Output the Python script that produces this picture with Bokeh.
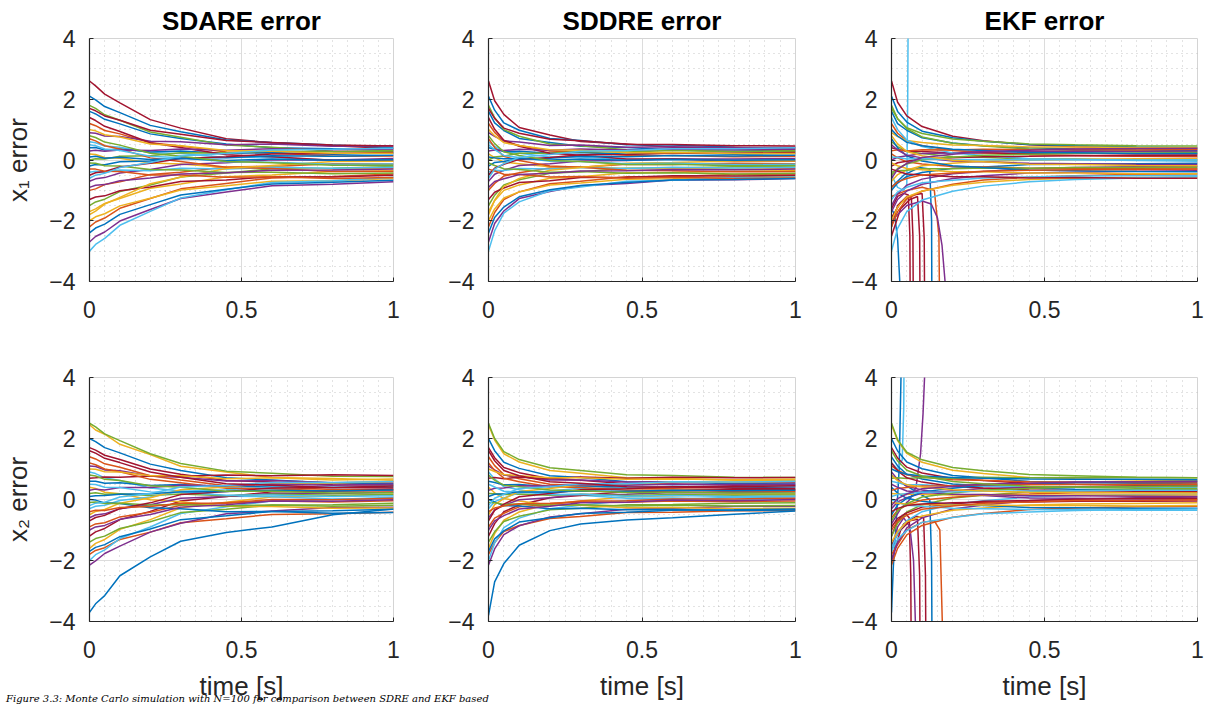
from bokeh.plotting import figure
from bokeh.layouts import column, row
from bokeh.models import Range1d, FixedTicker, Div, ColumnDataSource
from bokeh.embed import file_html
from bokeh.resources import INLINE

# ---------------- data ----------------
T = [0, 0.02, 0.05, 0.1, 0.2, 0.3, 0.45, 0.6, 0.8, 1.0]
x_ticks = [0, 0.5, 1]
y_ticks = [-4, -2, 0, 2, 4]
x_tick_labels = {0: "0", 0.5: "0.5", 1: "1"}
titles = ["SDARE error", "SDDRE error", "EKF error"]
y_labels = ["x\u2081 error", "x\u2082 error"]
x_label = "time [s]"
caption = "Figure 3.3: Monte Carlo simulation with N=100 for comparison between SDRE and EKF based"

sdare_x1 = [
    [1.6, 1.52, 1.34, 1.19, 0.86, 0.71, 0.53, 0.40, 0.37, 0.31],
    [-2.2, -2.04, -1.91, -1.59, -1.27, -0.95, -0.77, -0.59, -0.54, -0.46],
    [-2.0, -1.87, -1.77, -1.51, -1.26, -0.99, -0.85, -0.70, -0.68, -0.61],
    [-2.7, -2.52, -2.37, -2.01, -1.63, -1.27, -1.05, -0.85, -0.80, -0.72],
    [1.8, 1.70, 1.49, 1.31, 0.92, 0.75, 0.49, 0.42, 0.29, 0.27],
    [-3.0, -2.78, -2.58, -2.15, -1.69, -1.25, -0.98, -0.74, -0.68, -0.57],
    [2.6, 2.44, 2.17, 1.88, 1.33, 1.05, 0.70, 0.57, 0.47, 0.38],
    [2.1, 1.98, 1.76, 1.56, 1.14, 0.93, 0.66, 0.58, 0.49, 0.41],
    [1.2, 1.13, 0.97, 0.86, 0.57, 0.46, 0.26, 0.23, 0.12, 0.13],
    [-1.7, -1.61, -1.43, -1.27, -0.93, -0.79, -0.55, -0.49, -0.38, -0.36],
    [0.9, 0.88, 0.79, 0.77, 0.62, 0.60, 0.50, 0.53, 0.45, 0.47],
    [-1.5, -1.38, -1.29, -1.04, -0.82, -0.56, -0.43, -0.29, -0.27, -0.21],
    [0.6, 0.57, 0.46, 0.42, 0.24, 0.21, 0.08, 0.09, -0.01, 0.02],
    [-1.3, -1.22, -1.18, -1.01, -0.89, -0.71, -0.66, -0.55, -0.56, -0.50],
    [0.4, 0.41, 0.33, 0.36, 0.26, 0.30, 0.21, 0.25, 0.19, 0.22],
    [-1.0, -0.95, -0.81, -0.72, -0.48, -0.40, -0.23, -0.21, -0.12, -0.13],
    [0.2, 0.18, 0.08, 0.06, -0.10, -0.13, -0.25, -0.23, -0.30, -0.28],
    [-0.7, -0.62, -0.58, -0.43, -0.31, -0.15, -0.09, 0.01, 0.00, 0.05],
    [0.0, 0.04, 0.03, 0.12, 0.14, 0.24, 0.23, 0.30, 0.27, 0.31],
    [-0.4, -0.37, -0.40, -0.33, -0.35, -0.27, -0.30, -0.24, -0.27, -0.24],
    [1.4, 1.30, 1.11, 0.94, 0.57, 0.41, 0.17, 0.11, -0.01, -0.03],
    [-0.2, -0.15, -0.16, -0.06, -0.03, 0.07, 0.07, 0.14, 0.12, 0.16],
    [0.7, 0.63, 0.47, 0.36, 0.07, -0.05, -0.24, -0.28, -0.38, -0.37],
    [-1.8, -1.68, -1.45, -1.23, -0.78, -0.57, -0.28, -0.18, -0.05, -0.04],
    [0.3, 0.32, 0.29, 0.33, 0.31, 0.36, 0.32, 0.37, 0.34, 0.36],
    [-0.1, -0.11, -0.19, -0.20, -0.31, -0.33, -0.41, -0.40, -0.45, -0.43],
    [0.5, 0.47, 0.36, 0.31, 0.12, 0.07, -0.06, -0.07, -0.14, -0.13],
    [-0.5, -0.42, -0.38, -0.23, -0.11, 0.05, 0.11, 0.20, 0.21, 0.25],
    [0.1, 0.12, 0.06, 0.09, 0.02, 0.05, -0.02, 0.03, -0.01, 0.01],
    [-0.3, -0.30, -0.37, -0.38, -0.49, -0.49, -0.57, -0.55, -0.61, -0.58],
    [1.0, 0.96, 0.83, 0.76, 0.53, 0.47, 0.31, 0.29, 0.22, 0.22],
    [-0.9, -0.83, -0.81, -0.68, -0.59, -0.46, -0.42, -0.34, -0.33, -0.30],
    [0.8, 0.74, 0.59, 0.49, 0.22, 0.12, -0.05, -0.09, -0.17, -0.17],
    [-0.6, -0.50, -0.44, -0.25, -0.08, 0.13, 0.21, 0.33, 0.35, 0.39],
    [1.7, 1.62, 1.45, 1.31, 0.98, 0.85, 0.64, 0.58, 0.49, 0.46],
    [-2.4, -2.24, -2.11, -1.79, -1.47, -1.15, -0.96, -0.79, -0.73, -0.67],
]

sddre_x1 = [
    [1.6, 1.22, 0.97, 0.71, 0.58, 0.45, 0.41, 0.34, 0.34, 0.30],
    [-2.2, -1.73, -1.30, -1.05, -0.78, -0.70, -0.55, -0.54, -0.48, -0.46],
    [-2.0, -1.61, -1.25, -1.05, -0.82, -0.76, -0.63, -0.62, -0.57, -0.55],
    [-2.7, -2.09, -1.68, -1.27, -1.04, -0.85, -0.77, -0.66, -0.65, -0.61],
    [1.8, 1.39, 1.00, 0.78, 0.53, 0.47, 0.34, 0.33, 0.27, 0.28],
    [-3.0, -2.33, -1.75, -1.38, -1.01, -0.89, -0.70, -0.67, -0.58, -0.56],
    [2.6, 1.95, 1.50, 1.07, 0.82, 0.61, 0.53, 0.42, 0.41, 0.36],
    [2.1, 1.64, 1.22, 0.98, 0.71, 0.64, 0.50, 0.49, 0.42, 0.41],
    [1.2, 0.91, 0.62, 0.48, 0.30, 0.26, 0.16, 0.15, 0.11, 0.12],
    [-1.7, -1.34, -1.00, -0.82, -0.60, -0.55, -0.42, -0.41, -0.37, -0.35],
    [0.9, 0.78, 0.63, 0.59, 0.48, 0.49, 0.42, 0.44, 0.40, 0.41],
    [-1.5, -1.16, -0.82, -0.65, -0.44, -0.39, -0.27, -0.26, -0.22, -0.20],
    [0.6, 0.45, 0.28, 0.22, 0.10, 0.10, 0.02, 0.04, 0.00, 0.01],
    [-1.3, -1.06, -0.92, -0.74, -0.68, -0.58, -0.57, -0.52, -0.53, -0.50],
    [0.4, 0.36, 0.28, 0.29, 0.22, 0.25, 0.20, 0.23, 0.19, 0.21],
    [-1.0, -0.77, -0.53, -0.42, -0.26, -0.24, -0.14, -0.15, -0.11, -0.12],
    [0.2, 0.08, -0.07, -0.12, -0.22, -0.22, -0.28, -0.27, -0.30, -0.29],
    [-0.7, -0.47, -0.34, -0.18, -0.12, -0.03, -0.02, 0.03, 0.03, 0.05],
    [0.0, 0.10, 0.13, 0.22, 0.22, 0.28, 0.26, 0.31, 0.28, 0.31],
    [-0.4, -0.34, -0.35, -0.28, -0.30, -0.25, -0.28, -0.24, -0.26, -0.24],
    [1.4, 1.01, 0.65, 0.45, 0.22, 0.16, 0.03, 0.03, -0.03, -0.04],
    [-0.2, -0.08, -0.05, 0.05, 0.06, 0.12, 0.11, 0.15, 0.13, 0.16],
    [0.7, 0.41, 0.12, -0.02, -0.20, -0.24, -0.34, -0.35, -0.39, -0.38],
    [-1.8, -1.32, -0.87, -0.61, -0.34, -0.25, -0.11, -0.08, -0.03, -0.03],
    [0.3, 0.33, 0.31, 0.35, 0.32, 0.36, 0.33, 0.36, 0.34, 0.35],
    [-0.1, -0.18, -0.29, -0.31, -0.40, -0.38, -0.44, -0.42, -0.46, -0.44],
    [0.5, 0.34, 0.15, 0.08, -0.04, -0.05, -0.12, -0.11, -0.15, -0.14],
    [-0.5, -0.27, -0.14, 0.02, 0.08, 0.17, 0.18, 0.23, 0.22, 0.25],
    [0.1, 0.07, 0.04, 0.05, 0.00, 0.03, -0.01, 0.02, -0.01, 0.01],
    [-0.3, -0.36, -0.47, -0.48, -0.56, -0.54, -0.60, -0.57, -0.61, -0.59],
    [1.0, 0.80, 0.57, 0.48, 0.34, 0.32, 0.24, 0.25, 0.21, 0.21],
    [-0.9, -0.71, -0.62, -0.48, -0.44, -0.36, -0.35, -0.31, -0.32, -0.30],
    [0.8, 0.54, 0.27, 0.15, -0.02, -0.05, -0.15, -0.14, -0.19, -0.18],
    [-0.6, -0.30, -0.12, 0.09, 0.18, 0.29, 0.31, 0.37, 0.37, 0.40],
    [1.7, 1.37, 1.05, 0.88, 0.68, 0.63, 0.52, 0.51, 0.47, 0.46],
    [-2.4, -1.89, -1.55, -1.21, -0.98, -0.84, -0.74, -0.66, -0.64, -0.61],
]

ekf_x1 = [
    [1.6, 1.20, 0.98, 0.73, 0.56, 0.47, 0.40, 0.36, 0.33, 0.31],
    [-2.2, -1.70, -1.28, -1.03, -0.80, -0.66, -0.57, -0.52, -0.47, -0.46],
    [-2.0, -1.55, -1.22, -1.02, -0.83, -0.73, -0.64, -0.60, -0.58, -0.56],
    [-1.7, -1.30, -1.02, -0.80, -0.61, -0.52, -0.43, -0.40, -0.37, -0.35],
    [1.8, 1.36, 1.03, 0.76, 0.55, 0.46, 0.36, 0.32, 0.28, 0.26],
    [-3.0, -2.25, -1.70, -1.32, -1.03, -0.86, -0.72, -0.64, -0.59, -0.55],
    [2.6, 1.90, 1.45, 1.10, 0.78, 0.63, 0.50, 0.44, 0.39, 0.36],
    [2.1, 1.60, 1.25, 0.95, 0.73, 0.62, 0.51, 0.48, 0.43, 0.40],
    [1.2, 0.88, 0.64, 0.47, 0.31, 0.25, 0.17, 0.15, 0.12, 0.11],
    [0.9, 0.77, 0.64, 0.58, 0.49, 0.48, 0.43, 0.43, 0.41, 0.40],
    [-1.5, -1.12, -0.83, -0.63, -0.45, -0.38, -0.28, -0.25, -0.22, -0.21],
    [0.6, 0.44, 0.29, 0.21, 0.11, 0.09, 0.03, 0.03, 0.01, 0.00],
    [-1.3, -1.05, -0.90, -0.75, -0.67, -0.59, -0.56, -0.53, -0.52, -0.51],
    [0.4, 0.35, 0.29, 0.28, 0.23, 0.24, 0.21, 0.22, 0.20, 0.20],
    [-1.0, -0.76, -0.54, -0.41, -0.27, -0.23, -0.15, -0.14, -0.12, -0.11],
    [0.2, 0.07, -0.06, -0.13, -0.21, -0.23, -0.27, -0.28, -0.29, -0.30],
    [-0.7, -0.48, -0.33, -0.19, -0.11, -0.04, -0.01, 0.02, 0.04, 0.04],
    [0.0, 0.09, 0.14, 0.21, 0.23, 0.27, 0.27, 0.30, 0.29, 0.30],
    [-0.4, -0.35, -0.34, -0.29, -0.29, -0.26, -0.27, -0.25, -0.25, -0.24],
    [1.4, 1.00, 0.66, 0.44, 0.23, 0.15, 0.04, 0.02, -0.02, -0.04],
    [-0.2, -0.09, -0.04, 0.04, 0.07, 0.11, 0.12, 0.14, 0.14, 0.15],
    [0.7, 0.40, 0.13, -0.03, -0.19, -0.25, -0.33, -0.35, -0.38, -0.39],
    [0.3, 0.34, 0.30, 0.34, 0.33, 0.35, 0.34, 0.35, 0.33, 0.35],
    [-0.1, -0.19, -0.28, -0.32, -0.39, -0.39, -0.43, -0.43, -0.45, -0.45],
    [0.5, 0.33, 0.16, 0.07, -0.03, -0.06, -0.11, -0.12, -0.14, -0.15],
    [-0.5, -0.28, -0.13, 0.01, 0.09, 0.16, 0.19, 0.22, 0.23, 0.24],
    [0.1, 0.08, 0.03, 0.05, 0.01, 0.02, 0.00, 0.02, 0.00, 0.01],
    [-0.3, -0.37, -0.46, -0.49, -0.55, -0.55, -0.59, -0.58, -0.60, -0.60],
    [1.0, 0.79, 0.58, 0.47, 0.35, 0.31, 0.25, 0.24, 0.21, 0.21],
    [-0.9, -0.72, -0.61, -0.49, -0.43, -0.37, -0.34, -0.32, -0.31, -0.30],
    [0.8, 0.53, 0.28, 0.14, -0.01, -0.06, -0.14, -0.15, -0.18, -0.19],
    [-0.6, -0.31, -0.11, 0.08, 0.19, 0.28, 0.32, 0.36, 0.38, 0.39],
    [1.7, 1.36, 1.06, 0.87, 0.69, 0.62, 0.53, 0.50, 0.47, 0.46],
]

ekf_x1_div_t = [
    [0, 0.02, 0.04, 0.05, 0.053, 0.056],
    [0, 0.01, 0.02, 0.027, 0.03],
    [0, 0.02, 0.04, 0.055, 0.06, 0.063],
    [0, 0.02, 0.05, 0.065, 0.07, 0.073],
    [0, 0.03, 0.06, 0.085, 0.092, 0.095],
    [0, 0.03, 0.07, 0.1, 0.107, 0.11],
    [0, 0.04, 0.09, 0.125, 0.131, 0.133],
    [0, 0.05, 0.1, 0.14, 0.155, 0.16],
    [0, 0.05, 0.1, 0.13, 0.15, 0.165, 0.175, 0.18],
]
ekf_x1_div_y = [
    [-0.5, -0.9, -1.0, -0.8, 2.0, 8.0],
    [-1.6, -1.8, -2.6, -4.0, -8.0],
    [-1.6, -1.2, -1.1, -1.15, -2.5, -8.0],
    [-2.2, -1.5, -1.2, -1.25, -2.5, -8.0],
    [-2.5, -1.6, -1.3, -1.2, -2.5, -8.0],
    [-1.9, -1.4, -1.15, -1.1, -2.6, -8.0],
    [-0.9, -0.5, -0.25, -0.3, -2.0, -8.0],
    [-1.2, -1.0, -0.9, -1.0, -2.5, -8.0],
    [-2.0, -1.5, -1.35, -1.45, -1.9, -2.8, -4.0, -8.0],
]

sdare_x2 = [
    [2.0, 1.90, 1.70, 1.53, 1.16, 0.95, 0.71, 0.64, 0.54, 0.52],
    [-1.8, -1.67, -1.58, -1.31, -1.07, -0.76, -0.63, -0.49, -0.47, -0.42],
    [2.45, 2.28, 2.14, 1.81, 1.47, 1.09, 0.90, 0.72, 0.69, 0.63],
    [-2.15, -2.01, -1.77, -1.53, -1.07, -0.78, -0.47, -0.38, -0.26, -0.25],
    [2.5, 2.38, 2.15, 1.93, 1.50, 1.18, 0.93, 0.86, 0.76, 0.75],
    [-2.0, -1.81, -1.65, -1.28, -0.90, -0.46, -0.24, -0.05, 0.00, 0.07],
    [1.7, 1.62, 1.45, 1.31, 1.00, 0.83, 0.62, 0.57, 0.48, 0.47],
    [-3.7, -3.42, -3.15, -2.50, -1.88, -1.37, -1.08, -0.90, -0.50, -0.31],
    [1.4, 1.33, 1.17, 1.06, 0.78, 0.64, 0.45, 0.41, 0.33, 0.33],
    [-1.6, -1.44, -1.31, -0.98, -0.66, -0.27, -0.09, 0.08, 0.11, 0.17],
    [1.1, 1.08, 0.97, 0.94, 0.77, 0.73, 0.61, 0.62, 0.55, 0.57],
    [-1.4, -1.28, -1.20, -0.95, -0.73, -0.43, -0.32, -0.18, -0.17, -0.12],
    [0.9, 0.85, 0.71, 0.62, 0.38, 0.28, 0.11, 0.09, 0.02, 0.03],
    [-1.2, -1.06, -0.95, -0.66, -0.39, -0.05, 0.10, 0.25, 0.27, 0.33],
    [0.6, 0.60, 0.53, 0.55, 0.46, 0.49, 0.41, 0.44, 0.39, 0.41],
    [-0.9, -0.80, -0.76, -0.57, -0.42, -0.19, -0.11, 0.00, -0.01, 0.04],
    [0.4, 0.36, 0.24, 0.19, -0.01, -0.07, -0.22, -0.23, -0.29, -0.28],
    [-0.6, -0.51, -0.47, -0.30, -0.17, 0.04, 0.10, 0.20, 0.20, 0.24],
    [0.2, 0.22, 0.17, 0.19, 0.13, 0.18, 0.12, 0.17, 0.14, 0.16],
    [-0.3, -0.22, -0.19, -0.03, 0.08, 0.27, 0.32, 0.41, 0.40, 0.44],
    [0.7, 0.71, 0.74, 0.73, 0.77, 0.76, 0.80, 0.78, 0.81, 0.79],
    [0.0, -0.02, -0.11, -0.13, -0.27, -0.30, -0.40, -0.39, -0.45, -0.43],
    [1.2, 1.14, 1.00, 0.91, 0.66, 0.55, 0.37, 0.35, 0.28, 0.28],
    [-0.5, -0.39, -0.33, -0.12, 0.06, 0.32, 0.41, 0.53, 0.54, 0.59],
    [0.3, 0.34, 0.31, 0.39, 0.39, 0.47, 0.45, 0.50, 0.47, 0.51],
    [-0.1, -0.08, -0.13, -0.12, -0.18, -0.16, -0.21, -0.18, -0.22, -0.19],
    [0.5, 0.49, 0.40, 0.39, 0.25, 0.24, 0.14, 0.15, 0.10, 0.12],
    [-0.7, -0.59, -0.52, -0.30, -0.11, 0.16, 0.26, 0.38, 0.39, 0.44],
    [0.1, 0.12, 0.13, 0.17, 0.19, 0.25, 0.26, 0.30, 0.28, 0.31],
    [-0.4, -0.35, -0.36, -0.26, -0.23, -0.12, -0.12, -0.05, -0.08, -0.04],
    [1.0, 0.99, 0.91, 0.90, 0.78, 0.78, 0.68, 0.71, 0.64, 0.67],
    [-1.0, -0.90, -0.85, -0.65, -0.49, -0.25, -0.17, -0.05, -0.06, -0.01],
    [0.8, 0.77, 0.66, 0.62, 0.45, 0.40, 0.27, 0.27, 0.21, 0.22],
    [-0.2, -0.12, -0.09, 0.08, 0.20, 0.41, 0.46, 0.56, 0.56, 0.59],
    [1.6, 1.52, 1.35, 1.21, 0.90, 0.73, 0.52, 0.47, 0.39, 0.38],
    [-1.7, -1.57, -1.48, -1.22, -0.97, -0.66, -0.53, -0.39, -0.37, -0.32],
]

sddre_x2 = [
    [2.0, 1.60, 1.22, 1.02, 0.78, 0.72, 0.58, 0.57, 0.52, 0.51],
    [-1.8, -1.41, -1.05, -0.85, -0.62, -0.56, -0.43, -0.42, -0.37, -0.36],
    [2.45, 1.95, 1.50, 1.23, 0.95, 0.86, 0.71, 0.69, 0.63, 0.62],
    [-2.15, -1.62, -1.15, -0.86, -0.57, -0.47, -0.32, -0.29, -0.23, -0.22],
    [2.5, 2.00, 1.57, 1.31, 1.04, 0.95, 0.81, 0.79, 0.73, 0.72],
    [-2.0, -1.43, -0.92, -0.61, -0.30, -0.19, -0.03, 0.01, 0.07, 0.08],
    [1.7, 1.37, 1.05, 0.88, 0.68, 0.63, 0.52, 0.51, 0.47, 0.46],
    [-3.8, -2.70, -2.10, -1.50, -1.02, -0.80, -0.67, -0.60, -0.48, -0.38],
    [1.4, 1.11, 0.82, 0.68, 0.50, 0.46, 0.36, 0.35, 0.31, 0.31],
    [-1.6, -1.12, -0.68, -0.41, -0.14, -0.05, 0.09, 0.12, 0.17, 0.18],
    [1.1, 0.97, 0.80, 0.75, 0.64, 0.64, 0.57, 0.58, 0.55, 0.56],
    [-1.4, -1.06, -0.72, -0.55, -0.34, -0.29, -0.17, -0.16, -0.12, -0.11],
    [0.9, 0.67, 0.42, 0.32, 0.16, 0.14, 0.04, 0.05, 0.01, 0.02],
    [-1.2, -0.79, -0.40, -0.18, 0.06, 0.13, 0.26, 0.28, 0.33, 0.33],
    [0.6, 0.56, 0.48, 0.49, 0.42, 0.45, 0.40, 0.43, 0.39, 0.41],
    [-0.9, -0.61, -0.45, -0.24, -0.16, -0.05, -0.04, 0.02, 0.02, 0.04],
    [0.4, 0.22, 0.03, -0.05, -0.18, -0.19, -0.27, -0.26, -0.30, -0.29],
    [-0.6, -0.34, -0.19, -0.01, 0.06, 0.16, 0.17, 0.23, 0.22, 0.25],
    [0.2, 0.19, 0.16, 0.18, 0.14, 0.17, 0.13, 0.16, 0.14, 0.15],
    [-0.3, -0.07, 0.05, 0.22, 0.28, 0.37, 0.38, 0.43, 0.42, 0.45],
    [0.7, 0.72, 0.68, 0.73, 0.69, 0.74, 0.70, 0.73, 0.71, 0.72],
    [0.0, -0.08, -0.20, -0.21, -0.30, -0.29, -0.34, -0.33, -0.36, -0.34],
    [1.2, 0.95, 0.70, 0.58, 0.42, 0.39, 0.30, 0.30, 0.26, 0.27],
    [-0.5, -0.17, 0.03, 0.26, 0.36, 0.48, 0.50, 0.57, 0.57, 0.59],
    [0.3, 0.37, 0.38, 0.45, 0.44, 0.49, 0.47, 0.50, 0.48, 0.50],
    [-0.1, -0.11, -0.16, -0.15, -0.19, -0.17, -0.21, -0.19, -0.21, -0.20],
    [0.5, 0.41, 0.27, 0.25, 0.16, 0.17, 0.11, 0.13, 0.10, 0.11],
    [-0.7, -0.36, -0.15, 0.09, 0.20, 0.32, 0.35, 0.42, 0.42, 0.45],
    [0.1, 0.17, 0.19, 0.25, 0.24, 0.28, 0.27, 0.30, 0.29, 0.30],
    [-0.4, -0.28, -0.21, -0.14, -0.12, -0.08, -0.09, -0.05, -0.07, -0.05],
    [1.0, 0.92, 0.82, 0.78, 0.71, 0.71, 0.66, 0.67, 0.65, 0.66],
    [-1.0, -0.70, -0.53, -0.31, -0.22, -0.11, -0.09, -0.02, -0.04, 0.00],
    [0.8, 0.63, 0.47, 0.42, 0.31, 0.29, 0.23, 0.24, 0.21, 0.21],
    [-0.2, 0.04, 0.17, 0.36, 0.42, 0.52, 0.52, 0.58, 0.57, 0.60],
    [1.6, 1.27, 0.95, 0.78, 0.58, 0.53, 0.42, 0.41, 0.37, 0.36],
    [-1.7, -1.29, -1.03, -0.74, -0.60, -0.46, -0.42, -0.35, -0.34, -0.31],
]

ekf_x2 = [
    [2.0, 1.59, 1.23, 1.01, 0.79, 0.71, 0.59, 0.56, 0.53, 0.51],
    [-2.15, -1.60, -1.16, -0.85, -0.58, -0.46, -0.33, -0.28, -0.24, -0.22],
    [2.45, 1.93, 1.51, 1.22, 0.96, 0.85, 0.72, 0.68, 0.64, 0.62],
    [-2.0, -1.42, -0.93, -0.60, -0.31, -0.18, -0.04, 0.02, 0.06, 0.08],
    [2.5, 1.96, 1.55, 1.30, 1.05, 0.94, 0.82, 0.78, 0.73, 0.71],
    [-1.6, -1.11, -0.69, -0.40, -0.15, -0.04, 0.08, 0.13, 0.16, 0.18],
    [1.7, 1.36, 1.06, 0.87, 0.69, 0.62, 0.53, 0.50, 0.47, 0.46],
    [1.4, 1.10, 0.83, 0.67, 0.51, 0.45, 0.37, 0.34, 0.32, 0.31],
    [1.1, 0.96, 0.81, 0.74, 0.65, 0.63, 0.58, 0.57, 0.56, 0.55],
    [-1.4, -1.05, -0.73, -0.54, -0.35, -0.28, -0.18, -0.15, -0.13, -0.11],
    [0.9, 0.66, 0.43, 0.31, 0.17, 0.13, 0.05, 0.04, 0.02, 0.01],
    [-1.2, -0.78, -0.41, -0.17, 0.05, 0.14, 0.25, 0.29, 0.32, 0.33],
    [0.6, 0.55, 0.49, 0.48, 0.43, 0.44, 0.41, 0.42, 0.40, 0.40],
    [-0.9, -0.62, -0.44, -0.25, -0.15, -0.06, -0.03, 0.01, 0.03, 0.04],
    [0.4, 0.21, 0.04, -0.06, -0.17, -0.20, -0.26, -0.27, -0.29, -0.29],
    [-0.6, -0.35, -0.18, -0.02, 0.07, 0.15, 0.18, 0.22, 0.23, 0.24],
    [0.2, 0.18, 0.17, 0.17, 0.15, 0.16, 0.14, 0.15, 0.14, 0.15],
    [-0.3, -0.08, 0.06, 0.21, 0.29, 0.36, 0.39, 0.42, 0.43, 0.44],
    [0.7, 0.71, 0.69, 0.72, 0.70, 0.73, 0.71, 0.72, 0.72, 0.71],
    [0.0, -0.09, -0.19, -0.22, -0.29, -0.30, -0.33, -0.34, -0.35, -0.35],
    [1.2, 0.94, 0.71, 0.57, 0.43, 0.38, 0.31, 0.29, 0.27, 0.26],
    [-0.5, -0.18, 0.04, 0.25, 0.37, 0.47, 0.51, 0.56, 0.58, 0.59],
    [0.3, 0.36, 0.39, 0.44, 0.45, 0.48, 0.48, 0.49, 0.49, 0.50],
    [-0.1, -0.12, -0.15, -0.16, -0.18, -0.18, -0.20, -0.20, -0.21, -0.20],
    [0.5, 0.40, 0.28, 0.24, 0.17, 0.16, 0.12, 0.12, 0.11, 0.10],
    [-0.7, -0.37, -0.14, 0.08, 0.21, 0.31, 0.36, 0.41, 0.43, 0.44],
    [0.1, 0.16, 0.20, 0.24, 0.25, 0.27, 0.28, 0.29, 0.30, 0.30],
    [-0.4, -0.29, -0.20, -0.15, -0.11, -0.09, -0.08, -0.06, -0.06, -0.05],
    [1.0, 0.91, 0.83, 0.77, 0.72, 0.70, 0.67, 0.66, 0.66, 0.65],
    [-1.0, -0.71, -0.51, -0.32, -0.21, -0.12, -0.08, -0.03, -0.03, -0.01],
    [0.8, 0.62, 0.48, 0.41, 0.32, 0.28, 0.24, 0.23, 0.22, 0.21],
    [-0.2, 0.03, 0.18, 0.35, 0.43, 0.51, 0.53, 0.57, 0.58, 0.59],
    [1.6, 1.26, 0.96, 0.77, 0.59, 0.52, 0.43, 0.40, 0.37, 0.36],
    [-1.7, -1.30, -1.02, -0.75, -0.59, -0.47, -0.41, -0.36, -0.33, -0.31],
]

ekf_x2_div_t = [
    [0, 0.006, 0.015, 0.025, 0.031, 0.034],
    [0, 0.02, 0.035, 0.04, 0.043],
    [0, 0.03, 0.06, 0.08, 0.095, 0.103, 0.108, 0.112],
    [0, 0.02, 0.045, 0.058, 0.063, 0.066],
    [0, 0.02, 0.04, 0.06, 0.072, 0.078, 0.082],
    [0, 0.03, 0.06, 0.085, 0.092, 0.095],
    [0, 0.04, 0.08, 0.105, 0.111, 0.114],
    [0, 0.04, 0.09, 0.125, 0.131, 0.134],
    [0, 0.05, 0.1, 0.14, 0.158, 0.166, 0.17],
]
ekf_x2_div_y = [
    [-3.7, -2.2, -0.8, 1.0, 4.0, 8.0],
    [1.2, 1.0, 1.3, 3.0, 8.0],
    [-0.8, -0.3, 0.0, 0.4, 1.5, 2.8, 4.0, 8.0],
    [-1.2, -0.7, -0.45, -0.6, -2.5, -8.0],
    [-1.7, -0.9, -0.6, -0.9, -2.0, -4.0, -8.0],
    [-2.0, -1.0, -0.7, -0.65, -2.5, -8.0],
    [-1.5, -0.8, -0.55, -0.6, -2.5, -8.0],
    [0.8, 0.5, 0.2, 0.0, -2.0, -8.0],
    [-1.8, -1.0, -0.75, -0.7, -1.0, -4.0, -8.0],
]

# ---------------- styles ----------------
PALETTE = ["#0072BD", "#D95319", "#EDB120", "#7E2F8E", "#77AC30", "#4DBEEE", "#A2142F"]
ekf_x1_div_colors = [5, 0, 6, 6, 6, 6, 0, 1, 3]
ekf_x2_div_colors = [0, 5, 3, 6, 3, 6, 6, 0, 1]
FONT = "Liberation Sans"
AX = "#262626"
LW = 1.5

x_minor = [i * 0.05 for i in range(21)]
y_minor = [-4 + i * 0.5 for i in range(17)]


def make_panel(lines, width, height, bl, br, bt, bb, title=None, ylabel=None,
               xlabel=None, div_t=None, div_y=None, div_c=None):
    p = figure(width=width, height=height, x_range=Range1d(0, 1), y_range=Range1d(-4, 4),
               output_backend="svg", toolbar_location=None,
               min_border_left=bl, min_border_right=br, min_border_top=bt, min_border_bottom=bb)
    p.background_fill_color = "white"
    p.border_fill_color = "white"
    p.outline_line_color = "#d4d4d4"
    p.outline_line_width = 1
    if title:
        p.title.text = title
        p.title.align = "center"
        p.title.text_font = FONT
        p.title.text_font_size = "26px"
        p.title.text_font_style = "bold"
        p.title.text_color = "black"
        p.title.standoff = 6

    p.xaxis.ticker = FixedTicker(ticks=x_ticks, minor_ticks=x_minor)
    p.yaxis.ticker = FixedTicker(ticks=y_ticks, minor_ticks=y_minor)
    p.xaxis.major_label_overrides = x_tick_labels
    for ax in (p.xaxis[0], p.yaxis[0]):
        ax.axis_line_color = AX
        ax.axis_line_width = 1.2
        ax.major_tick_in = 4
        ax.major_tick_out = 0
        ax.major_tick_line_color = AX
        ax.minor_tick_line_color = None
        ax.major_label_text_font = FONT
        ax.major_label_text_font_size = "23px"
        ax.major_label_text_color = AX
        ax.axis_label_text_font = FONT
        ax.axis_label_text_font_size = "26px"
        ax.axis_label_text_font_style = "normal"
        ax.axis_label_text_color = AX
    p.yaxis.major_label_standoff = 10
    p.xaxis.major_label_standoff = 15
    p.yaxis.axis_label_standoff = 13
    p.xaxis.axis_label_standoff = 10
    if ylabel:
        p.yaxis.axis_label = ylabel
    if xlabel:
        p.xaxis.axis_label = xlabel

    for g in (p.xgrid[0], p.ygrid[0]):
        g.grid_line_color = "#dcdcdc"
        g.grid_line_width = 1
        g.minor_grid_line_color = "#9a9a9a"
        g.minor_grid_line_alpha = 0.55
        g.minor_grid_line_dash = "1 4"
        g.minor_grid_line_width = 1

    if div_t is not None:
        src = ColumnDataSource(dict(xs=div_t, ys=div_y,
                                    c=[PALETTE[k] for k in div_c]))
        p.multi_line("xs", "ys", source=src, line_color="c", line_width=LW)

    xs = [T for _ in lines]
    cs = [PALETTE[i % 7] for i in range(len(lines))]
    src = ColumnDataSource(dict(xs=xs, ys=lines, c=cs))
    p.multi_line("xs", "ys", source=src, line_color="c", line_width=LW)
    return p


p1 = make_panel(sdare_x1, 440, 340, 87, 47, 37, 59, title=titles[0], ylabel=y_labels[0])
p2 = make_panel(sddre_x1, 400, 340, 48, 45, 37, 59, title=titles[1])
p3 = make_panel(ekf_x1, 379, 340, 51, 22, 37, 59, title=titles[2],
                div_t=ekf_x1_div_t, div_y=ekf_x1_div_y, div_c=ekf_x1_div_colors)
p4 = make_panel(sdare_x2, 440, 365, 87, 47, 37, 84, ylabel=y_labels[1], xlabel=x_label)
p5 = make_panel(sddre_x2, 400, 365, 48, 45, 37, 84, xlabel=x_label)
p6 = make_panel(ekf_x2, 379, 365, 51, 22, 37, 84, xlabel=x_label,
                div_t=ekf_x2_div_t, div_y=ekf_x2_div_y, div_c=ekf_x2_div_colors)

cap = Div(text=caption, width=1219, height=12, margin=(-12, 0, 0, 6),
          styles={"font-family": "'DejaVu Serif', serif", "font-style": "italic",
                  "font-size": "10px", "white-space": "nowrap", "color": "black",
                  "line-height": "11px"})

layout = column(row(p1, p2, p3, spacing=0), row(p4, p5, p6, spacing=0), cap, spacing=0)

open("out.html", "w").write(file_html(layout, INLINE))
